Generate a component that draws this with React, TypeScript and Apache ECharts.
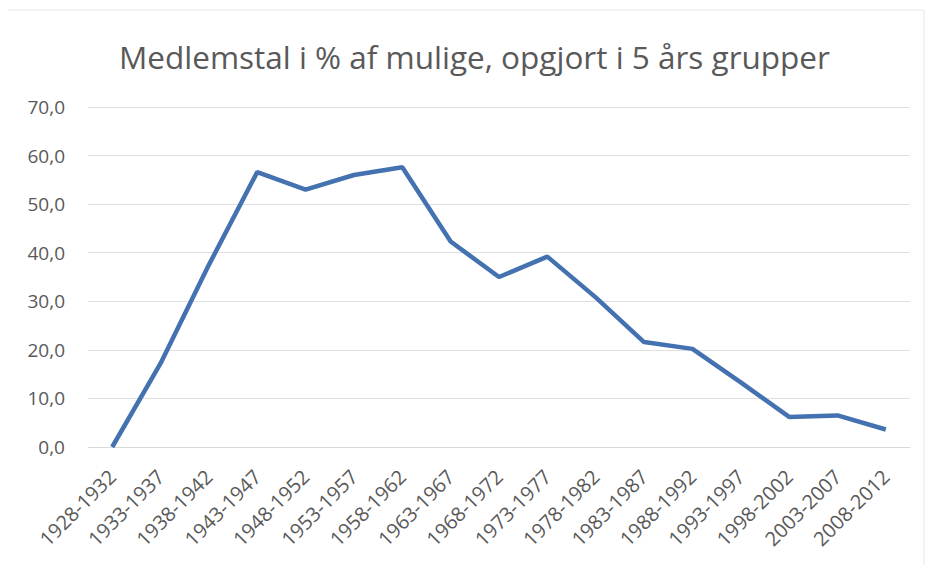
import React, { useEffect, useRef } from "react";
import * as echarts from "echarts";

const categories = [
  "1928-1932", "1933-1937", "1938-1942", "1943-1947", "1948-1952", "1953-1957",
  "1958-1962", "1963-1967", "1968-1972", "1973-1977", "1978-1982", "1983-1987",
  "1988-1992", "1993-1997", "1998-2002", "2003-2007", "2008-2012",
];
const medlemstal = [0, 17.2, 37.5, 56.6, 53.0, 56.0, 57.6, 42.3, 35.0, 39.2, 30.8, 21.6, 20.2, 13.3, 6.2, 6.5, 3.6];
const titleText = "Medlemstal i % af mulige, opgjort i 5 års grupper";

export default function App() {
  const ref = useRef<HTMLDivElement>(null);
  useEffect(() => {
    if (!ref.current) return;
    const chart = echarts.init(ref.current, undefined, { renderer: "svg" });
    const font = "'Open Sans', 'Noto Sans', sans-serif";
    chart.setOption({
      animation: false,
      backgroundColor: "#ffffff",
      title: {
        text: titleText,
        left: 119,
        top: 40,
        padding: 0,
        textStyle: { fontFamily: font, fontSize: 31.5, fontWeight: "normal", color: "#595959" },
      },
      graphic: [
        {
          type: "rect",
          shape: { x: 6, y: 10, width: 918, height: 558 },
          style: { fill: "none", stroke: "#e6e6e6", lineWidth: 1 },
          silent: true,
        },
      ],
      grid: { left: 88, right: 23, top: 107, bottom: 126 },
      xAxis: {
        type: "category",
        data: categories,
        boundaryGap: true,
        axisLine: { show: true, lineStyle: { color: "#d9d9d9", width: 1 } },
        axisTick: { show: false },
        axisLabel: {
          rotate: 45,
          interval: 0,
          margin: 26,
          fontFamily: font,
          fontSize: 20,
          color: "#595959",
        },
      },
      yAxis: {
        type: "value",
        min: 0,
        max: 70,
        interval: 10,
        axisLine: { show: false },
        axisTick: { show: false },
        splitLine: { lineStyle: { color: "#e0e0e0", width: 1 } },
        axisLabel: {
          margin: 23,
          fontFamily: font,
          fontSize: 19,
          color: "#595959",
          formatter: (v: number) => v.toFixed(1).replace(".", ","),
        },
      },
      series: [
        {
          type: "line",
          data: medlemstal,
          symbol: "none",
          lineStyle: { color: "#4472b0", width: 4.5 },
        },
      ],
    });
    return () => chart.dispose();
  }, []);
  return <div ref={ref} style={{ width: 933, height: 573, margin: -8 }} />;
}
